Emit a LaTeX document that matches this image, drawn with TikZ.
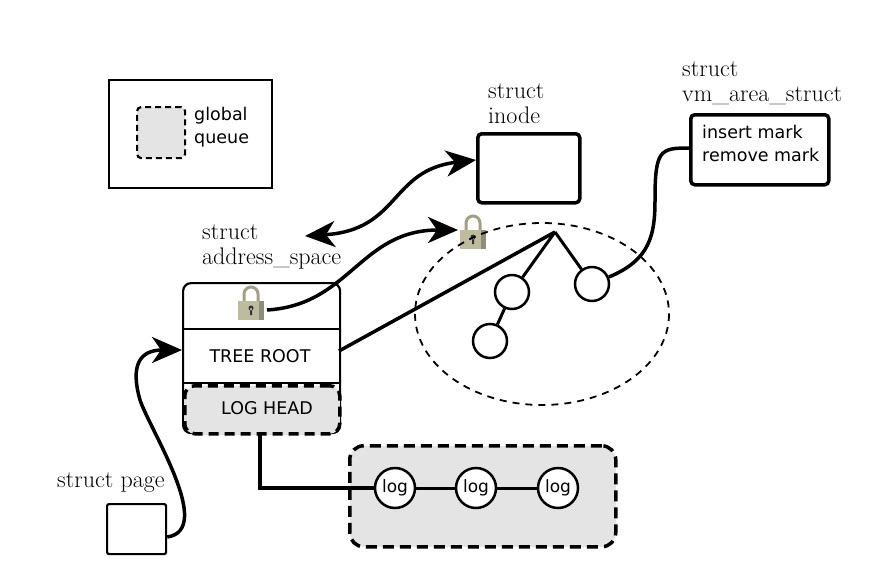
\documentclass[tikz,border=0pt]{standalone}
\usepackage{fontspec}
\newfontfamily\sansf{DejaVu Sans}
\usetikzlibrary{arrows.meta}
\definecolor{lockc}{HTML}{BDBC9E}
\definecolor{qgray}{HTML}{E4E4E4}
\tikzset{
 box/.style={draw,line width=3.5pt,rounded corners=4pt},
 lbl/.style={font=\fontsize{24}{25}\selectfont,align=left,anchor=north west,inner sep=0},
 stxt/.style={font=\sansf\fontsize{17.5}{23}\selectfont,inner sep=0},
 conn/.style={line width=3.5pt},
 arr/.style={conn,-{Stealth[length=30pt,width=26pt,inset=9pt]}},
 dbl/.style={conn,{Stealth[length=30pt,width=26pt,inset=9pt]}-{Stealth[length=30pt,width=26pt,inset=9pt]}},
 circ/.style={draw,circle,line width=2.5pt,minimum size=34pt,inner sep=0,fill=white},
 logc/.style={draw,circle,line width=2.5pt,minimum size=40pt,inner sep=0,fill=white,font=\sansf\fontsize{17}{18}\selectfont},
}
\newcommand{\mylock}[2]{%
 \draw[line width=3pt,color=lockc!85!black] (#1-7,#2-2) -- (#1-7,#2-9) arc[start angle=180,end angle=360,radius=7] -- (#1+7,#2-2);
 \fill[lockc] (#1-13,#2-2) rectangle (#1+13,#2+17);
 \fill[lockc!75!black] (#1+8,#2-2) rectangle (#1+13,#2+17);
 \fill[black!80] (#1,#2+5) circle (2.5) (#1-1,#2+5) rectangle (#1+1,#2+12);
}
\begin{document}
\begin{tikzpicture}[x=1pt,y=-1pt]
\useasboundingbox (0,0) rectangle (894,578);
% legend
\node[draw,line width=2.2pt,minimum width=163pt,minimum height=108pt,anchor=north west] (legend) at (108,79) {};
\node[draw,dashed,dash pattern=on 6pt off 4pt,line width=2.2pt,fill=qgray,rounded corners=4pt,minimum width=48pt,minimum height=51pt,anchor=north west] (gq) at (136,106) {};
\node[stxt,anchor=north west,align=left] (gqt) at (194,107) {global\\queue};
% inode
\node[box,minimum width=102pt,minimum height=69pt,anchor=north west] (inode) at (476,132) {};
\node[lbl] (inodel) at (488,84) {struct\\inode};
% vm
\node[box,minimum width=138pt,minimum height=70pt,anchor=north west] (vm) at (689,113) {};
\node[stxt,anchor=north west,align=left] (vmt) at (702,125) {insert mark\\remove mark};
\node[lbl] (vml) at (682,62) {struct\\vm\_area\_struct};
% address space
\node[lbl] (asl) at (202,225) {struct\\address\_space};
\node[draw,line width=2.2pt,rounded corners=8pt,minimum width=157pt,minimum height=150pt,anchor=north west] (as) at (182,282) {};
\draw[line width=2.2pt] (182,329) -- (339,329);
\draw[line width=2.2pt] (182,383) -- (339,383);
\node[draw,dashed,dash pattern=on 10pt off 6pt,line width=3.5pt,fill=qgray,rounded corners=10pt,minimum width=155pt,minimum height=48pt,anchor=north west] (lh) at (183,384) {};
\node[stxt] (tr) at (260,356) {TREE ROOT};
\node[stxt] (lht) at (267,408) {LOG HEAD};
\mylock{251}{303}
\mylock{473}{232}
% arrows
\coordinate (dl) at (305,236);
\draw[dbl] (dl) .. controls (400,230) and (390,170) .. (inode.west|-0,160);
\coordinate (l1r) at (267,310);
\coordinate (l2l) at (458,230);
\draw[arr] (l1r) .. controls (350,305) and (360,230) .. (l2l);
% tree
\draw[dashed,line width=1.8pt,dash pattern=on 7pt off 6pt] (542,314) ellipse [x radius=127, y radius=91];
\coordinate (top) at (555,232);
\node[circ] (c1) at (512,292) {};
\node[circ] (c2) at (592,284) {};
\node[circ] (c3) at (490,341) {};
\draw[conn] (339,351) -- (top);
\draw[line width=3pt] (top) -- (c1) (top) -- (c2) (c1) -- (c3);
\draw[conn] (c2) .. controls (650,260) and (655,235) .. (655,200) .. controls (655,150) and (660,148) .. (vm.west|-0,148);
% logs
\node[draw,dashed,dash pattern=on 11pt off 6pt,line width=3.5pt,fill=qgray,rounded corners=14pt,minimum width=266pt,minimum height=101pt,anchor=north west] (logs) at (348,444) {};
\node[logc] (g1) at (395,488) {log};
\node[logc] (g2) at (476,488) {log};
\node[logc] (g3) at (558,488) {log};
\draw[line width=3pt] (g1) -- (g2) (g2) -- (g3);
\draw[conn] (260,432) -- (260,488) -- (g1);
% page
\node[draw,line width=2.2pt,rounded corners=2pt,minimum width=59pt,minimum height=50pt,anchor=north west] (page) at (106,503) {};
\node[lbl] (pagel) at (57,473) {struct page};
\draw[arr] (page.east|-0,537) .. controls (215,530) and (150,430) .. (140,400) .. controls (130,365) and (140,350) .. (182,350);
\end{tikzpicture}
\end{document}
